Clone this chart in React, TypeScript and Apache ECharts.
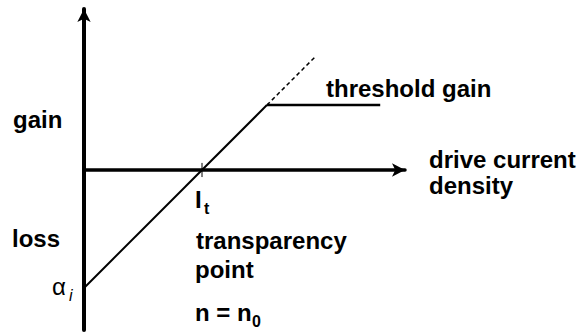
import React, { useEffect, useRef } from "react";
import * as echarts from "echarts";

// Data (units: transparency current It = 1, internal loss αi = 1)
const gainLine: [number, number][] = [
  [0, -1],
  [1.55, 0.55],
];
const gainExtension: [number, number][] = [
  [1.55, 0.55],
  [1.96, 0.96],
];
const thresholdLine: [number, number][] = [
  [1.55, 0.55],
  [2.51, 0.55],
];
const transparencyTick: [number, number][] = [
  [1, 0.06],
  [1, -0.06],
];
const xRange = [0, 2.72];
const yRange = [-1.356, 1.364];

const labels = {
  gain: "gain",
  loss: "loss",
  threshold: "threshold gain",
  drive1: "drive current",
  drive2: "density",
  transparency1: "transparency",
  transparency2: "point",
  nEq: "n = n",
};

const BOLD = "bold 24px 'Liberation Sans', Arial, sans-serif";
const SUB = "bold 16px 'Liberation Sans', Arial, sans-serif";

function txt(text: string, x: number, y: number, font = BOLD) {
  return {
    type: "text",
    x,
    y,
    silent: true,
    style: {
      text,
      font,
      fill: "#000",
      textAlign: "left",
      textVerticalAlign: "middle",
    },
  };
}

export default function App() {
  const ref = useRef<HTMLDivElement>(null);
  useEffect(() => {
    if (!ref.current) return;
    const chart = echarts.init(ref.current, undefined, { renderer: "svg" });
    const lineSeries = (data: [number, number][], width: number, type: any = "solid") => ({
      type: "line",
      data,
      symbol: "none",
      silent: true,
      lineStyle: { color: "#000", width, type, cap: "butt" },
    });
    chart.setOption({
      animation: false,
      backgroundColor: "#fff",
      grid: { left: 84, right: 173, top: 9, bottom: 3, containLabel: false },
      xAxis: {
        type: "value",
        min: xRange[0],
        max: xRange[1],
        axisLine: {
          show: true,
          onZero: true,
          symbol: ["none", "arrow"],
          symbolSize: [10, 13],
          lineStyle: { color: "#000", width: 3.5 },
        },
        axisTick: { show: false },
        axisLabel: { show: false },
        splitLine: { show: false },
      },
      yAxis: {
        type: "value",
        min: yRange[0],
        max: yRange[1],
        axisLine: {
          show: true,
          onZero: false,
          symbol: ["none", "arrow"],
          symbolSize: [10, 13],
          lineStyle: { color: "#000", width: 4 },
        },
        axisTick: { show: false },
        axisLabel: { show: false },
        splitLine: { show: false },
      },
      series: [
        lineSeries(gainLine, 2),
        lineSeries(gainExtension, 1.5, [4, 3]),
        lineSeries(thresholdLine, 2.5),
        lineSeries(transparencyTick, 1),
      ],
      graphic: [
        txt(labels.gain, 13, 119),
        txt(labels.loss, 12, 238),
        txt(labels.threshold, 326, 88),
        txt(labels.drive1, 429, 159),
        txt(labels.drive2, 429, 185),
        txt("I", 195, 199),
        txt("t", 204, 208, SUB),
        txt(labels.transparency1, 196, 240),
        txt(labels.transparency2, 195, 269),
        txt(labels.nEq, 195, 312),
        txt("0", 252, 321, SUB),
        txt("α", 52, 286, "24px 'Liberation Sans', Arial, sans-serif"),
        txt("i", 69, 295, "italic 16px 'Liberation Sans', Arial, sans-serif"),
      ],
    });
    return () => chart.dispose();
  }, []);
  return (
    <div
      ref={ref}
      style={{ position: "fixed", left: 0, top: 0, width: 578, height: 333, background: "#fff" }}
    />
  );
}
